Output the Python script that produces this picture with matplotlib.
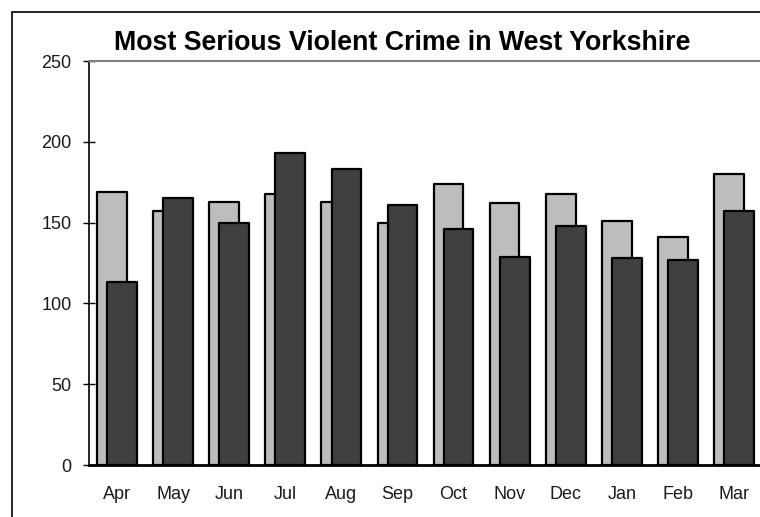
import matplotlib
matplotlib.use("Agg")
import matplotlib.pyplot as plt
import numpy as np
from matplotlib.patches import Rectangle

months = ["Apr", "May", "Jun", "Jul", "Aug", "Sep", "Oct", "Nov", "Dec", "Jan", "Feb", "Mar"]
prev_year = [169, 157, 163, 168, 163, 150, 174, 162, 168, 151, 141, 180]
this_year = [113, 165, 150, 193, 183, 161, 146, 129, 148, 128, 127, 157]

plt.rcParams["font.family"] = ["Liberation Sans", "DejaVu Sans"]

W, H = 760, 517
fig = plt.figure(figsize=(W / 100, H / 100), dpi=100)
ax = fig.add_axes([89 / W, 52 / H, 673 / W, 404 / H])

x = np.arange(len(months))
bw = 0.53
off = 0.09
ax.bar(x - off, prev_year, bw, color="#bdbdbd", edgecolor="black", linewidth=1.6,
       joinstyle="round", zorder=2)
ax.bar(x + off, this_year, bw, color="#404040", edgecolor="black", linewidth=1.6,
       joinstyle="round", zorder=3)

ax.set_xlim(-0.5, len(months) - 0.5)
ax.set_ylim(0, 250)
ax.set_yticks([0, 50, 100, 150, 200, 250])
ax.set_xticks(x)
ax.set_xticklabels(months)
ax.tick_params(axis="y", direction="inout", length=9, width=1, pad=8, labelsize=13,
               colors="black", labelcolor="#1a1a1a")
ax.tick_params(axis="x", length=0, pad=15, labelsize=13, labelcolor="#1a1a1a")

ax.spines["left"].set_linewidth(1.2)
ax.spines["bottom"].set_linewidth(2)
ax.spines["bottom"].set_zorder(4)
ax.spines["top"].set_color("#808080")
ax.spines["top"].set_linewidth(1.5)
ax.spines["right"].set_color("#808080")

fig.text(402.5 / W, 1 - 49.5 / H, "Most Serious Violent Crime in West Yorkshire",
         ha="center", va="baseline", fontsize=19.3, fontweight="bold")

# outer chart border, cropped at right and bottom
fig.patches.append(Rectangle((12 / W, -0.1), 1.1, 1 - 12 / H + 0.1, transform=fig.transFigure,
                             fill=False, edgecolor="black", linewidth=1.2))

fig.savefig("out.png", dpi=100)
